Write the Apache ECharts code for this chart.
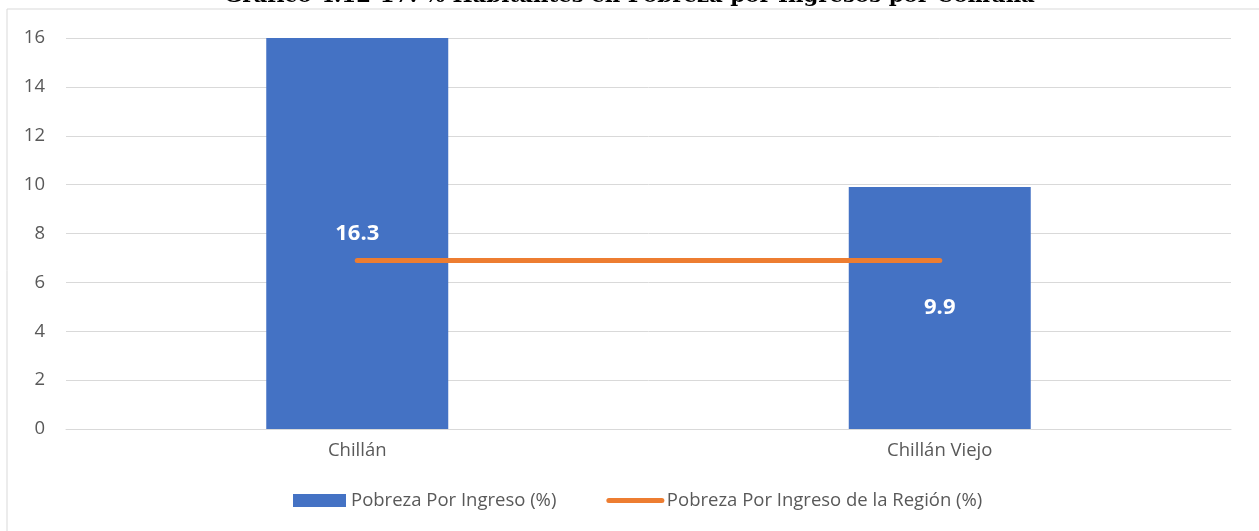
<!DOCTYPE html>
<html lang="es">
<head>
  <meta charset="UTF-8">
  <title>Pobreza por Ingresos por Comuna</title>
  <script src="https://cdn.jsdelivr.net/npm/echarts@6/dist/echarts.min.js"></script>
  <style>
    html, body { margin: 0; padding: 0; background: #fff; }
    #chart { width: 1259px; height: 531px; }
  </style>
</head>
<body>
  <div id="chart"></div>
  <script>
    // datos
    var comunas = ['Chillán', 'Chillán Viejo'];
    var pobrezaComuna = [16.3, 9.9];
    var pobrezaRegion = [6.9, 6.9];
    var yTicks = [0, 2, 4, 6, 8, 10, 12, 14, 16];

    var oChart = echarts.init(document.getElementById('chart'));

    var opt = {
      animation: false,
      title: {
        text: 'Gráfico 4.12-17: % Habitantes en Pobreza por Ingresos por Comuna',
        left: 'center',
        top: -14,
        padding: 0,
        textStyle: {
          fontFamily: 'DejaVu Serif',
          fontWeight: 'bold',
          fontSize: 21.3,
          color: '#000'
        }
      },
      graphic: [{
        type: 'rect',
        shape: { x: 7, y: 9, width: 1280, height: 560 },
        style: { fill: 'none', stroke: '#d9d9d9', lineWidth: 1 },
        z: -1
      }],
      legend: {
        bottom: 16,
        left: 288,
        itemWidth: 53,
        itemHeight: 13,
        itemGap: 50,
        textStyle: { fontFamily: 'Open Sans', fontSize: 18.5, color: '#595959' },
        data: [
          { name: 'Pobreza Por Ingreso (%)', icon: 'rect' },
          {
            name: 'Pobreza Por Ingreso de la Región (%)',
            itemStyle: { opacity: 0 },
            lineStyle: { width: 5, cap: 'round', color: '#ed7d31' }
          }
        ]
      },
      grid: {
        left: 66,
        right: 28,
        top: 38,
        bottom: 102
      },
      xAxis: {
        type: 'category',
        data: comunas,
        axisLine: { lineStyle: { color: '#d9d9d9', width: 1 } },
        axisTick: { show: false },
        axisLabel: { fontFamily: 'Open Sans', fontSize: 18.5, color: '#595959', margin: 12 }
      },
      yAxis: {
        type: 'value',
        min: yTicks[0],
        max: yTicks[yTicks.length - 1],
        interval: 2,
        axisLine: { show: false },
        axisTick: { show: false },
        axisLabel: { fontFamily: 'Open Sans', fontSize: 18.5, color: '#595959', margin: 21 },
        splitLine: { lineStyle: { color: '#d9d9d9', width: 1 } }
      },
      series: [{
        name: 'Pobreza Por Ingreso (%)',
        type: 'bar',
        barWidth: 182,
        clip: true,
        itemStyle: { color: '#4472c4' },
        label: {
          show: true,
          position: 'inside',
          color: '#fff',
          fontFamily: 'Open Sans',
          fontWeight: 'bold',
          fontSize: 22
        },
        data: pobrezaComuna
      }, {
        name: 'Pobreza Por Ingreso de la Región (%)',
        type: 'line',
        symbol: 'none',
        lineStyle: { color: '#ed7d31', width: 5, cap: 'round' },
        itemStyle: { color: '#ed7d31' },
        data: pobrezaRegion
      }]
    };

    oChart.setOption(opt);
  </script>
</body>
</html>
